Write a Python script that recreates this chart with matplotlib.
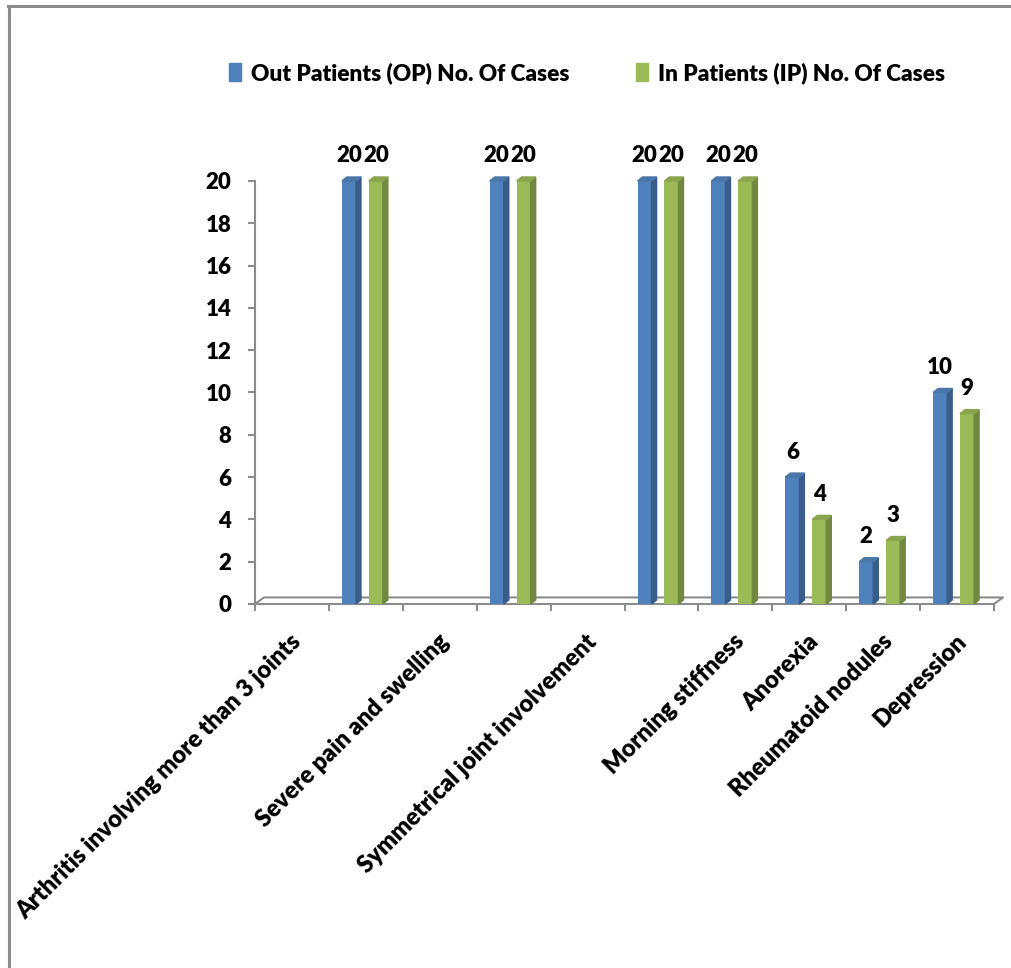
import numpy as np
import matplotlib
matplotlib.use("Agg")
from matplotlib import pyplot as plt
from matplotlib.patches import Polygon, Patch
from matplotlib.lines import Line2D
from matplotlib.transforms import ScaledTranslation

# data (10 category slots, some without labels in the source sheet)
categories = ['Arthritis involving more than 3 joints', '', 'Severe pain and swelling', '',
              'Symmetrical joint involvement', '', 'Morning stiffness', 'Anorexia',
              'Rheumatoid nodules', 'Depression']
op_cases = [0, 20, 0, 20, 0, 20, 20, 6, 2, 10]
ip_cases = [0, 20, 0, 20, 0, 20, 20, 4, 3, 9]
series_names = ['Out Patients (OP) No. Of Cases', 'In Patients (IP) No. Of Cases']
y_ticks = list(range(0, 21, 2))

plt.rcParams['font.family'] = ['Lato', 'DejaVu Sans']
wt = 'heavy'

W, H = 1011, 968
fig = plt.figure(figsize=(W / 100, H / 100), dpi=100)
ax = fig.add_axes([255 / W, 364 / H, (994 - 255) / W, (604 - 181) / H])

grey = '#8c8c8c'
colors = [('#4f81bd', '#385d8a', '#4a76a8'), ('#9bbb59', '#71893f', '#8aa54e')]
offsets = [0.176, 0.54]
bw = 0.19
sx, sy = 0.068, 0.19      # fake 3d depth of the columns
fx, fy = 0.122, 0.31      # fake 3d depth of the floor

# floor
ax.plot([0, fx, 10 + fx, 10], [0, fy, fy, 0], color=grey, lw=1.5, clip_on=False, zorder=1)

x = np.arange(len(categories))
for vals, off, (front, side, top) in zip([op_cases, ip_cases], offsets, colors):
    bars = ax.bar(x + off, vals, width=bw, align='edge', color=front, zorder=3)
    for b, v in zip(bars, vals):
        if v == 0:
            continue
        x0, x1 = b.get_x(), b.get_x() + b.get_width()
        ax.add_patch(Polygon([(x1, 0), (x1 + sx, sy), (x1 + sx, v + sy), (x1, v)],
                             closed=True, color=side, zorder=3, clip_on=False))
        ax.add_patch(Polygon([(x0, v), (x1, v), (x1 + sx, v + sy), (x0 + sx, v + sy)],
                             closed=True, color=top, zorder=3, clip_on=False))
        ax.annotate(str(v), (x0 + bw / 2, v), xytext=(0, 18), textcoords='offset points',
                    ha='center', va='center', fontsize=16, fontweight=wt)

ax.set_xlim(0, 10)
ax.set_ylim(0, 20)
for s in ['top', 'right']:
    ax.spines[s].set_visible(False)
for s in ['left', 'bottom']:
    ax.spines[s].set_color(grey)
    ax.spines[s].set_linewidth(1.5)

ax.set_yticks(y_ticks)
ax.set_yticklabels([str(t) for t in y_ticks], fontsize=16, fontweight=wt)
ax.tick_params(axis='y', length=5, width=1.5, color=grey, pad=12)
ax.set_xticks(np.arange(0, 11))
ax.set_xticklabels([])
ax.tick_params(axis='x', which='major', length=5, width=1.5, color=grey)
ax.set_xticks(x + 0.5, minor=True)
ax.set_xticklabels(categories, minor=True, rotation=45, ha='right', va='top',
                   rotation_mode='anchor', fontsize=17, fontweight=wt)
ax.tick_params(axis='x', which='minor', length=0, pad=19)
for lbl in ax.get_xticklabels(minor=True):
    lbl.set_transform(lbl.get_transform() + ScaledTranslation(-0.02, 0, fig.dpi_scale_trans))

handles = [Patch(color=colors[0][0]), Patch(color=colors[1][0])]
fig.legend(handles, series_names, loc='center', bbox_to_anchor=(587 / W, 1 - 73 / H),
           ncol=2, frameon=False, handlelength=0.55, handleheight=0.8,
           handletextpad=0.45, columnspacing=2.9, prop={'weight': wt, 'size': 16.3})

# chart area border (top and left edges visible)
fig.add_artist(Line2D([9 / W, 9 / W], [0, 1 - 6 / H], color=grey, lw=2.2))
fig.add_artist(Line2D([8 / W, 1], [1 - 6 / H, 1 - 6 / H], color=grey, lw=2.2))

fig.savefig('out.png', dpi=100)
